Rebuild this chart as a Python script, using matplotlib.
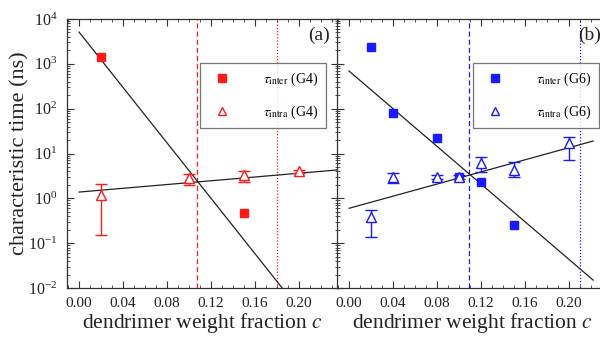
import numpy as np
import matplotlib
matplotlib.use('Agg')
import matplotlib.pyplot as plt
from matplotlib.lines import Line2D
from matplotlib.ticker import MultipleLocator, LogLocator, NullFormatter

plt.rcParams['font.family'] = ['Liberation Serif', 'DejaVu Serif']
plt.rcParams['mathtext.fontset'] = 'stix'

# G4 (left panel)
g4_c_inter = [0.02, 0.15]
g4_inter = [1450, 0.46]
g4_c_intra = [0.02, 0.10, 0.15, 0.20]
g4_intra = [1.2, 2.8, 3.3, 4.0]
g4_intra_lo = [0.15, 2.0, 2.3, 3.7]
g4_intra_hi = [2.1, 3.5, 4.0, 4.3]
g4_fit_c = [0.0, 0.235]
g4_fit_inter = [5100, 2.8e-4]
g4_fit_intra = [1.38, 4.3]
g4_vlines = [0.107, 0.18]

# G6 (right panel)
g6_c_inter = [0.02, 0.04, 0.08, 0.10, 0.12, 0.15]
g6_inter = [2350, 80, 22, 3.0, 2.3, 0.26]
g6_c_intra = [0.02, 0.04, 0.08, 0.10, 0.12, 0.15, 0.20]
g6_intra = [0.38, 3.0, 3.0, 3.0, 6.2, 4.3, 17]
g6_intra_lo = [0.14, 2.2, 2.7, 2.7, 3.9, 3.0, 7.1]
g6_intra_hi = [0.55, 3.6, 3.3, 3.3, 8.3, 6.4, 23]
g6_fit_c = [0.0, 0.222]
g6_fit_inter = [690, 0.015]
g6_fit_intra = [0.6, 19]
g6_vlines = [0.109, 0.21]

xticks = [0.00, 0.04, 0.08, 0.12, 0.16, 0.20]
xticklabels = ['0.00', '0.04', '0.08', '0.12', '0.16', '0.20']

fig = plt.figure(figsize=(6, 3.39), dpi=100)
W, H = 600, 339
ax1 = fig.add_axes([67 / W, 1 - 288 / H, 271 / W, 269 / H])
ax2 = fig.add_axes([337 / W, 1 - 288 / H, 271 / W, 269 / H])

spine_col = '#333333'
text_col = '#222222'


def panel(ax, c_inter, inter, c_intra, intra, lo, hi, fit_c, fit_inter, fit_intra,
          vlines, color, gen, tag, tag_x, tag_ha, leg_anchor, show_ylabels):
    ax.set_yscale('log')
    ax.set_xlim(-0.011, 0.2355)
    ax.set_ylim(1e-2, 1e4)

    ax.plot(fit_c, fit_inter, color=text_col, lw=0.9, zorder=2)
    ax.plot(fit_c, fit_intra, color=text_col, lw=0.9, zorder=2)

    ax.axvline(vlines[0], color=color, ls=(0, (4, 2.5)), lw=0.9, zorder=1)
    ax.axvline(vlines[1], color=color, ls=(0, (1, 1.5)), lw=0.9, zorder=1)

    ax.plot(c_inter, inter, 's', color=color, ms=6, mec=color, zorder=4)
    yerr = [np.array(intra) - np.array(lo), np.array(hi) - np.array(intra)]
    ax.errorbar(c_intra, intra, yerr=yerr, fmt='^', color=color, mfc='white',
                mec=color, ms=7, mew=1.0, capsize=4, elinewidth=1.0, capthick=1.0,
                zorder=5)

    ax.set_xticks(xticks)
    ax.set_xticklabels(xticklabels)
    ax.xaxis.set_minor_locator(MultipleLocator(0.01))
    ax.yaxis.set_major_locator(LogLocator(base=10, numticks=10))
    ax.yaxis.set_minor_locator(LogLocator(base=10, subs=np.arange(2, 10), numticks=20))
    ax.yaxis.set_minor_formatter(NullFormatter())
    ax.tick_params(which='both', direction='in', top=True, right=True, colors=spine_col)
    ax.tick_params(which='major', length=5, width=0.8, labelsize=11, labelcolor=text_col)
    ax.tick_params(which='minor', length=2.5, width=0.6)
    ax.tick_params(axis='x', which='major', pad=6.5)
    ax.tick_params(axis='y', which='major', pad=7, labelsize=11.5)
    if not show_ylabels:
        ax.tick_params(axis='y', which='both', labelleft=False)
    for s in ax.spines.values():
        s.set_color(spine_col)
        s.set_linewidth(0.9)

    ax.set_xlabel(r'dendrimer weight fraction $c$', fontsize=15.5, labelpad=0.5, color=text_col)

    handles = [
        Line2D([], [], ls='none', marker='s', ms=6, color=color, mec=color),
        Line2D([], [], ls='none', marker='^', ms=6, color=color, mfc='white', mec=color, mew=1.0),
    ]
    labels = [r'$\tau_{\rm inter}$ (G%s)' % gen, r'$\tau_{\rm intra}$ (G%s)' % gen]
    leg = ax.legend(handles, labels, loc='upper right', bbox_to_anchor=leg_anchor,
                    fontsize=10, frameon=True, fancybox=False, edgecolor='#555555',
                    borderaxespad=0, labelspacing=1.1, handletextpad=1.9,
                    borderpad=0.55, handlelength=2.1)
    leg.get_frame().set_linewidth(0.9)

    ax.text(tag_x, 0.94, tag, transform=ax.transAxes, ha=tag_ha, va='center',
            fontsize=14, color=text_col)


panel(ax1, g4_c_inter, g4_inter, g4_c_intra, g4_intra, g4_intra_lo, g4_intra_hi,
      g4_fit_c, g4_fit_inter, g4_fit_intra, g4_vlines, '#ff1a1a', '4', '(a)',
      0.97, 'right', (0.956, 0.836), True)
panel(ax2, g6_c_inter, g6_inter, g6_c_intra, g6_intra, g6_intra_lo, g6_intra_hi,
      g6_fit_c, g6_fit_inter, g6_fit_intra, g6_vlines, '#1a1aff', '6', '(b)',
      0.889, 'left', (0.967, 0.836), False)

ax1.set_ylabel('characteristic time (ns)', fontsize=16, color=text_col)
ax1.yaxis.set_label_coords(-0.14, 0.5)

fig.savefig('out.png', dpi=100)
